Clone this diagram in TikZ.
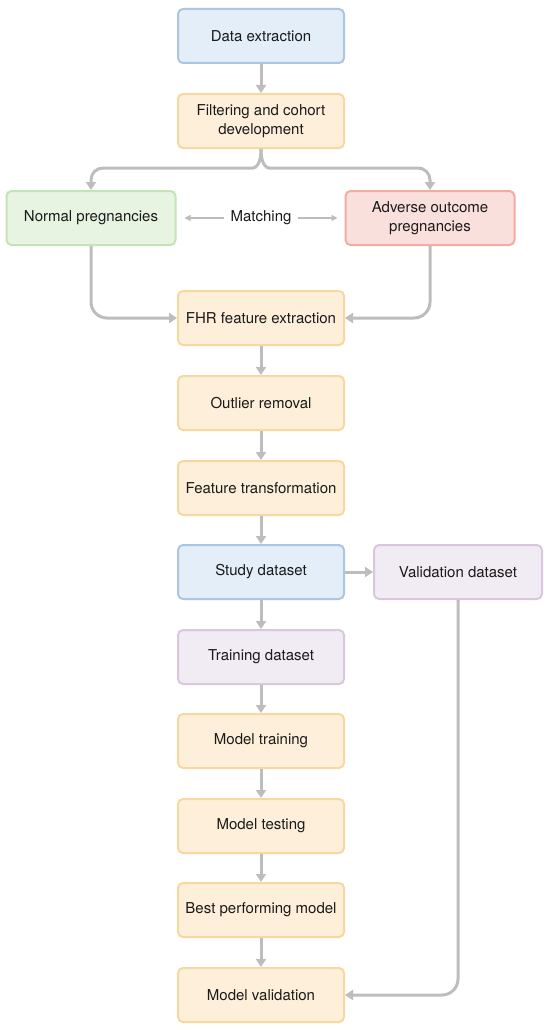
\documentclass[tikz,border=0pt]{standalone}
\usepackage{fontspec}
\setmainfont{TeX Gyre Heros}
\usetikzlibrary{arrows.meta,positioning}
\definecolor{bfill}{HTML}{E3EEF8}\definecolor{bdraw}{HTML}{AAC6E2}
\definecolor{ofill}{HTML}{FDEFD9}\definecolor{odraw}{HTML}{F8D89E}
\definecolor{gfill}{HTML}{E7F4E2}\definecolor{gdraw}{HTML}{C3E5B6}
\definecolor{rfill}{HTML}{F9E0DD}\definecolor{rdraw}{HTML}{F4ABA5}
\definecolor{pfill}{HTML}{F1EBF3}\definecolor{pdraw}{HTML}{DBC6E0}
\definecolor{conncol}{HTML}{BDBDBD}
\definecolor{txt}{HTML}{1A1A1A}
\tikzset{
  box/.style={rounded corners=5pt, line width=2pt, minimum width=166pt, minimum height=54pt,
    align=center, text=txt, font=\fontsize{15}{19}\selectfont, inner sep=2pt},
  bluebox/.style={box, fill=bfill, draw=bdraw},
  orbox/.style={box, fill=ofill, draw=odraw},
  grbox/.style={box, fill=gfill, draw=gdraw},
  rdbox/.style={box, fill=rfill, draw=rdraw},
  pubox/.style={box, fill=pfill, draw=pdraw},
  conn/.style={draw=conncol, line width=3pt, -{Triangle[length=8pt,width=10pt]}},
  thin/.style={draw=conncol, line width=1.3pt, -{Triangle[length=6pt,width=6pt]}}
}
\begin{document}
\begin{tikzpicture}[x=1pt,y=-1pt]
\useasboundingbox (0,0) rectangle (550,1030);
\node[bluebox] (de) at (261,36) {Data extraction};
\node[orbox] (fc) at (261,121) {Filtering and cohort\\development};
\node[grbox, minimum width=169pt] (np) at (91,218) {Normal pregnancies};
\node[rdbox, minimum width=169pt] (ap) at (430,218) {Adverse outcome\\pregnancies};
\node[text=txt, font=\fontsize{15}{19}\selectfont] (mt) at (261,218) {Matching};
\node[orbox] (fhr) at (261,318) {FHR feature extraction};
\node[orbox] (or) at (261,403) {Outlier removal};
\node[orbox] (ft) at (261,488) {Feature transformation};
\node[bluebox] (sd) at (261,572) {Study dataset};
\node[pubox, minimum width=168pt] (vd) at (458,572) {Validation dataset};
\node[pubox] (td) at (261,657) {Training dataset};
\node[orbox] (mtr) at (261,741) {Model training};
\node[orbox] (mte) at (261,826) {Model testing};
\node[orbox] (bp) at (261,910) {Best performing model};
\node[orbox] (mv) at (261,995) {Model validation};

\draw[conn] (de) -- (fc);
\draw[conn, rounded corners=12pt] (fc.south) .. controls (261,164) and (256,168) .. (241,168) -- (np.north |- 0,168) -- (np.north);
\draw[conn, rounded corners=12pt] (fc.south) .. controls (261,164) and (266,168) .. (281,168) -- (ap.north |- 0,168) -- (ap.north);
\draw[thin] (mt.west) ++(-3,0) -- ([xshift=8pt]np.east);
\draw[thin] (mt.east) ++(3,0) -- ([xshift=-7pt]ap.west);
\draw[conn, rounded corners=16pt] (np.south) |- (fhr.west);
\draw[conn, rounded corners=16pt] (ap.south) |- (fhr.east);
\draw[conn] (fhr) -- (or);
\draw[conn] (or) -- (ft);
\draw[conn] (ft) -- (sd);
\draw[conn] (sd) -- (vd);
\draw[conn] (sd) -- (td);
\draw[conn] (td) -- (mtr);
\draw[conn] (mtr) -- (mte);
\draw[conn] (mte) -- (bp);
\draw[conn] (bp) -- (mv);
\draw[conn, rounded corners=16pt] (vd.south) |- (mv.east);
\end{tikzpicture}
\end{document}
